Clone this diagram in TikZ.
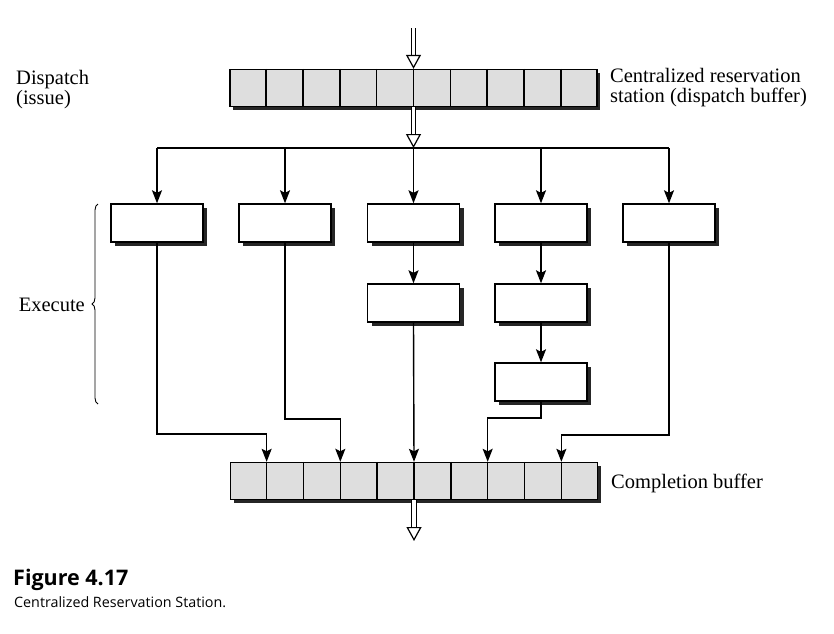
\documentclass[tikz,border=0pt]{standalone}
\usepackage{fontspec}
\setmainfont{Liberation Serif}
\newfontfamily\capfont{Open Sans}
\usetikzlibrary{arrows.meta,shadows,calc,decorations.pathreplacing}

\begin{document}
\begin{tikzpicture}[x=1pt,y=-1pt,
    buf/.style={rectangle,draw,line width=1.4pt,fill=black!13,minimum width=367pt,minimum height=37pt,inner sep=0pt,
      drop shadow={shadow xshift=3pt,shadow yshift=-3pt,fill=black!85,opacity=1}},
    fu/.style={rectangle,draw,line width=1.4pt,fill=white,minimum width=92pt,minimum height=38pt,inner sep=0pt,
      drop shadow={shadow xshift=4pt,shadow yshift=-4pt,fill=black!85,opacity=1}},
    wire/.style={line width=1.4pt,-{Stealth[length=13pt,width=10pt,inset=2.5pt]}},
    dbl/.style={double,double distance=3.5pt,line width=1.2pt,-{Triangle[open,length=14pt,width=15pt]}},
    lbl/.style={font=\fontsize{20.5}{20}\selectfont,inner sep=0pt,align=left}]

      \useasboundingbox (0,0) rectangle (834,633);

      % buffers
      \node[buf] (rs) at (413.5,88) {};
      \node[buf] (cb) at (414,481) {};
      \foreach \i in {1,...,9} {
        \draw[line width=1.4pt] ($(rs.north west)!\i/10!(rs.north east)$) -- ($(rs.south west)!\i/10!(rs.south east)$);
        \draw[line width=1.4pt] ($(cb.north west)!\i/10!(cb.north east)$) -- ($(cb.south west)!\i/10!(cb.south east)$);
      }

      % functional units
      \begin{scope}[every node/.style={fu}]
        \node (fu1)  at (157,223)   {};
        \node (fu2)  at (285,223)   {};
        \node (fu3)  at (413.5,223) {};
        \node (fu4)  at (541,223)   {};
        \node (fu5)  at (669,223)   {};
        \node (fu3b) at (413.5,303) {};
        \node (fu4b) at (541,303)   {};
        \node (fu4c) at (541,382)   {};
      \end{scope}

      \coordinate (in)    at (413.5,28);
      \coordinate (split) at (413.5,148);
      \coordinate (out)   at (414,541);
      \coordinate (cb1) at ($(cb.north west)!0.1!(cb.north east)$);
      \coordinate (cb3) at ($(cb.north west)!0.3!(cb.north east)$);
      \coordinate (cb5) at ($(cb.north west)!0.5!(cb.north east)$);
      \coordinate (cb7) at ($(cb.north west)!0.7!(cb.north east)$);
      \coordinate (cb9) at ($(cb.north west)!0.9!(cb.north east)$);

      % dispatch
      \draw[dbl] (in) -- (rs.north);
      \draw[dbl] (rs.south) -- (split);
      \draw[line width=1.4pt] (fu1.north |- split) -- (fu5.north |- split);
      \foreach \n in {fu1,fu2,fu3,fu4,fu5}
        \draw[wire] (\n.north |- split) -- (\n.north);

      % pipelines
      \draw[wire] (fu3.south)  -- (fu3b.north);
      \draw[wire] (fu4.south)  -- (fu4b.north);
      \draw[wire] (fu4b.south) -- (fu4c.north);

      % completion
      \draw[wire] (fu1.south)  |- ($(cb1)+(0,-28)$) -- (cb1);
      \draw[wire] (fu2.south)  |- ($(cb3)+(0,-43)$) -- (cb3);
      \draw[wire] (fu3b.south) -- (cb5);
      \draw[wire] (fu4c.south) |- ($(cb7)+(0,-44)$) -- (cb7);
      \draw[wire] (fu5.south)  |- ($(cb9)+(0,-27)$) -- (cb9);
      \draw[dbl] (cb.south) -- (out);

      % labels
      \coordinate (brtop) at (98,204);
      \coordinate (brbot) at (98,404);
      \draw[line width=0.9pt,decorate,decoration={brace,amplitude=6pt}] (brbot) -- (brtop);
      \node[lbl,anchor=north west] (disp)  at (16,70)   {Dispatch\\(issue)};
      \node[lbl,anchor=north west] (rslbl) at (610,68)  {Centralized reservation\\station (dispatch buffer)};
      \node[lbl,anchor=base west]  (cblbl) at (611,488) {Completion buffer};
      \node[lbl,anchor=east]       (exe)   at (85,305)  {Execute};

      % caption
      \node[anchor=base west,inner sep=0pt,font=\capfont\bfseries\fontsize{21.5}{21.5}\selectfont] (fig) at (13,585) {Figure 4.17};
      \node[anchor=base west,inner sep=0pt,font=\capfont\fontsize{14.3}{14.3}\selectfont] (cap) at (14,607) {Centralized Reservation Station.};

    \end{tikzpicture}
\end{document}
